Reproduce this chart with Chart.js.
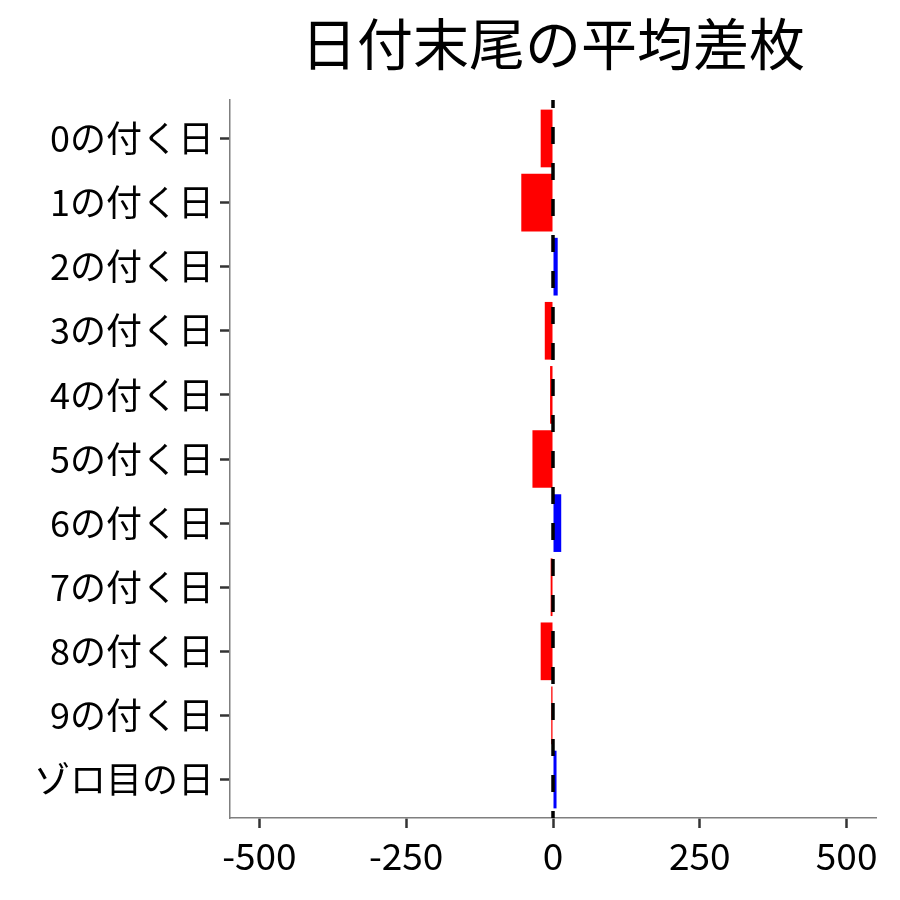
<!DOCTYPE html>
<html>
<head>
<meta charset="utf-8">
<script src="https://cdn.jsdelivr.net/npm/chart.js@4"></script>
<style>
  html, body { margin: 0; padding: 0; background: #fff; }
  #wrap { width: 900px; height: 900px; }
</style>
</head>
<body>
<div id="wrap"><canvas id="chart" width="900" height="900"></canvas></div>
<script>
const titleText = '日付末尾の平均差枚'
const categories = ['0の付く日', '1の付く日', '2の付く日', '3の付く日', '4の付く日', '5の付く日',
    '6の付く日', '7の付く日', '8の付く日', '9の付く日', 'ゾロ目の日']
const diffValues = [-21, -54, 8, -14, -5, -35, 14, -4, -21, -3, 6]
const xTicks = [-500, -250, 0, 250, 500]
const xMin = -550
const xMax = 550

const FONT = '"Noto Sans CJK JP", "Noto Sans", sans-serif'

// rouge si négatif, bleu si positif
const barColors = diffValues.map((v) => (v < 0 ? '#ff0000' : '#0000ff'))

// axe des catégories en linéaire pour avoir la marge de 0.6 comme ggplot
const barData = diffValues.map((v, i) => ({ x: v, y: i }))

// ligne pointillée sur zéro + titre centré sur le panneau
const zeroLine = {
    id: 'zeroLine',
    afterDatasetsDraw(chart) {
        const { ctx, chartArea, scales } = chart
        const x = scales.x.getPixelForValue(0)
        ctx.save()
        ctx.beginPath()
        ctx.rect(chartArea.left, chartArea.top, chartArea.width, chartArea.height)
        ctx.clip()
        ctx.strokeStyle = '#000'
        ctx.lineWidth = 3.5
        ctx.setLineDash([17, 19])
        ctx.lineDashOffset = 9
        ctx.beginPath()
        ctx.moveTo(x, chartArea.top)
        ctx.lineTo(x, chartArea.bottom)
        ctx.stroke()
        ctx.restore()
    },
    afterDraw(chart) {
        const { ctx, chartArea } = chart
        ctx.save()
        ctx.fillStyle = '#000'
        ctx.font = '56px ' + FONT
        ctx.textAlign = 'center'
        ctx.textBaseline = 'middle'
        ctx.fillText(titleText, (chartArea.left + chartArea.right) / 2, 44)
        ctx.restore()
    }
}

new Chart(document.getElementById('chart'), {
    type: 'bar',
    data: {
        datasets: [
            {
                data: barData,
                backgroundColor: barColors,
                barPercentage: 0.9,
                categoryPercentage: 1
            }
        ]
    },
    options: {
        indexAxis: 'y',
        responsive: false,
        animation: false,
        layout: { padding: { top: 100, right: 24, left: 0, bottom: 0 } },
        plugins: {
            legend: { display: false },
            tooltip: { enabled: false }
        },
        scales: {
            x: {
                type: 'linear',
                min: xMin,
                max: xMax,
                afterBuildTicks: (scale) => {
                    scale.ticks = xTicks.map((v) => ({ value: v }))
                },
                afterFit: (scale) => {
                    scale.height = 82
                },
                grid: { drawOnChartArea: false, drawTicks: true, tickLength: 10, tickColor: '#333', tickWidth: 2.5 },
                border: { color: '#7f7f7f', width: 1.5 },
                ticks: { color: '#000', font: { family: FONT, size: 37 }, padding: 6, maxRotation: 0 }
            },
            y: {
                type: 'linear',
                reverse: true,
                offset: false,
                min: -0.6,
                max: categories.length - 0.4,
                afterBuildTicks: (scale) => {
                    scale.ticks = categories.map((c, i) => ({ value: i }))
                },
                afterFit: (scale) => {
                    scale.width = 230
                },
                grid: { offset: false, drawOnChartArea: false, drawTicks: true, tickLength: 10, tickColor: '#333', tickWidth: 2.5 },
                border: { color: '#7f7f7f', width: 1.5 },
                ticks: {
                    color: '#000',
                    font: { family: FONT, size: 36 },
                    padding: 6,
                    callback: (v) => categories[v]
                }
            }
        }
    },
    plugins: [zeroLine]
})
</script>
</body>
</html>
